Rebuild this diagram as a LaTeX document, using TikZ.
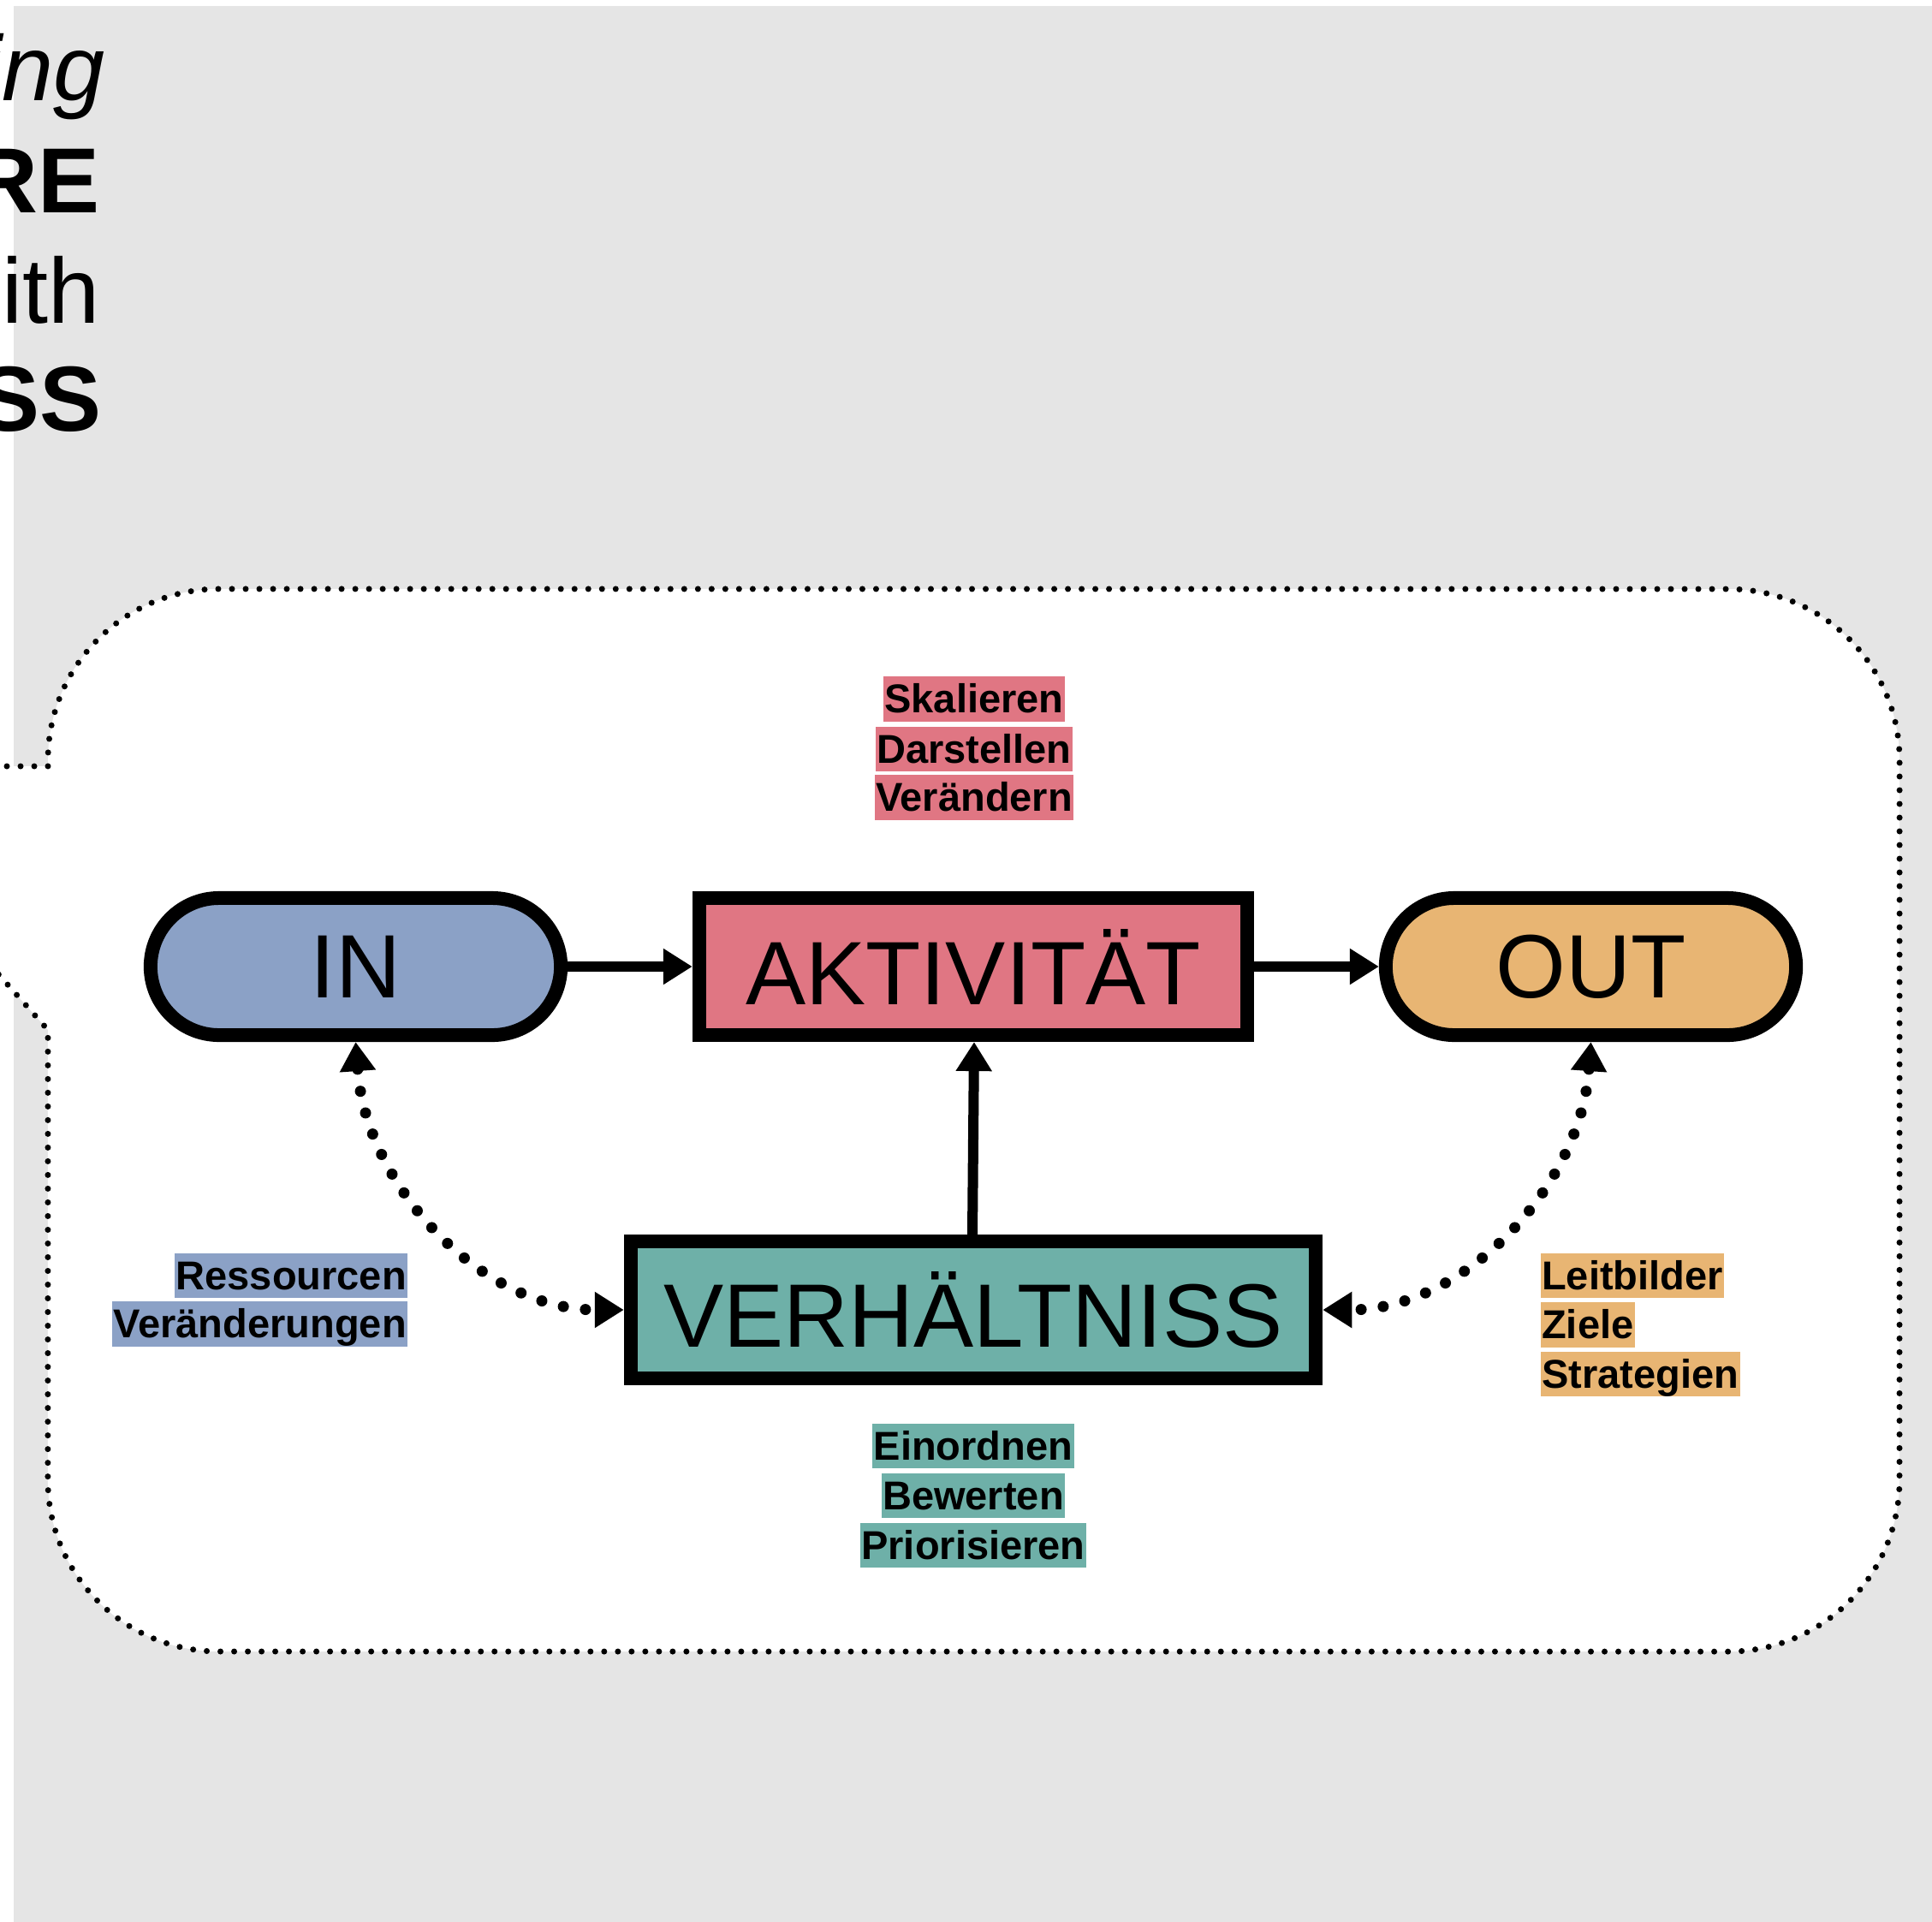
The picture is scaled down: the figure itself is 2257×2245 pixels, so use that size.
\documentclass[tikz,border=0pt]{standalone}
\usepackage{fontspec}
\setmainfont{Liberation Sans}
\usetikzlibrary{arrows.meta}
\definecolor{bgGray}{HTML}{E5E5E5}
\definecolor{cIn}{HTML}{8BA1C6}
\definecolor{cAkt}{HTML}{E07683}
\definecolor{cOut}{HTML}{E8B573}
\definecolor{cVer}{HTML}{6EB0A8}
\begin{document}
\begin{tikzpicture}[x=0.01cm,y=-0.01cm,
  box/.style={draw=black, line width=0.16cm, minimum height=1.6cm, inner sep=0pt, text=black, font=\fontsize{29.9pt}{36pt}\selectfont},
  pill/.style={box, rounded corners=0.8cm, minimum width=4.79cm},
  lab/.style={inner xsep=0.015cm, inner ysep=0pt, text height=12.1pt, text depth=2.84pt, text=black, font=\fontsize{13.37pt}{16pt}\selectfont\bfseries},
  arr/.style={line width=0.12cm, -{Triangle[length=0.34cm,width=0.40cm]}},
  dotarr/.style={line width=0.13cm, line cap=round, dash pattern=on 0pt off 0.26cm, {Triangle[length=0.34cm,width=0.40cm]}-{Triangle[length=0.34cm,width=0.40cm]}},
  titletxt/.style={anchor=base east, inner sep=0pt, text=black},
  frame/.style={line width=0.07cm, line cap=round, dash pattern=on 0pt off 0.16cm, fill=white}
]
\useasboundingbox (0,0) rectangle (2257,2245);
\fill[white] (0,0) rectangle (2257,2245);
\clip (0,0) rectangle (2257,2245);
\fill[bgGray] (16,7) rectangle (2257,2245);

% title fragments (cut off by the left edge, as in the reference)
\node[titletxt, font=\fontsize{30.7pt}{37pt}\selectfont\itshape] (t1) at (123,117) {ing};
\node[titletxt, font=\fontsize{30.7pt}{37pt}\selectfont\bfseries] (t2) at (117,248) {RE};
\node[titletxt, font=\fontsize{30.7pt}{37pt}\selectfont] (t3) at (117,377) {ith};
\node[titletxt, font=\fontsize{30.7pt}{37pt}\selectfont\bfseries] (t4) at (119,503) {SS};

% dotted frame with tail to the left
\draw[frame] (-40,895) -- (56,895) -- (56,888)
  arc[start angle=180, end angle=90, radius=2cm] -- (2019,688)
  arc[start angle=90, end angle=0, radius=2cm] -- (2219,1729)
  arc[start angle=0, end angle=-90, radius=2cm] -- (256,1929)
  arc[start angle=270, end angle=180, radius=2cm] -- (56,1203)
  -- (-40,1095) -- cycle;

% main nodes
\node[pill, fill=cIn] (in) at (415.5,1129) {IN};
\node[box, fill=cAkt, minimum width=6.4cm] (akt) at (1137,1129) {AKTIVITÄT};
\node[pill, fill=cOut] (out) at (1858.5,1129) {OUT};
\node[box, fill=cVer, minimum width=8.0cm] (ver) at (1137,1530) {VERHÄLTNISS};

% connectors
\draw[arr] (in) -- (akt);
\draw[arr] (akt) -- (out);
\draw[arr] ([xshift=-0.01cm]ver.north) -- ([xshift=0.01cm]akt.south);
\draw[dotarr] (in.south) .. controls +(12,168) and +(-166,0) .. (ver.west);
\draw[dotarr] (out.south) .. controls +(-12,168) and +(166,0) .. (ver.east);

% labels
\node[lab, fill=cAkt] (a1) at (1138,816.5) {Skalieren};
\node[lab, fill=cAkt] (a2) at (1138,875) {Darstellen};
\node[lab, fill=cAkt] (a3) at (1138,931.5) {Verändern};

\node[lab, fill=cIn, anchor=east] (i1) at (477,1490) {Ressourcen};
\node[lab, fill=cIn, anchor=east] (i2) at (477,1546.5) {Veränderungen};

\node[lab, fill=cOut, anchor=west] (o1) at (1799,1490) {Leitbilder};
\node[lab, fill=cOut, anchor=west] (o2) at (1799,1547.5) {Ziele};
\node[lab, fill=cOut, anchor=west] (o3) at (1799,1605) {Strategien};

\node[lab, fill=cVer] (v1) at (1137,1689) {Einordnen};
\node[lab, fill=cVer] (v2) at (1137,1747) {Bewerten};
\node[lab, fill=cVer] (v3) at (1137,1805) {Priorisieren};
\end{tikzpicture}
\end{document}
